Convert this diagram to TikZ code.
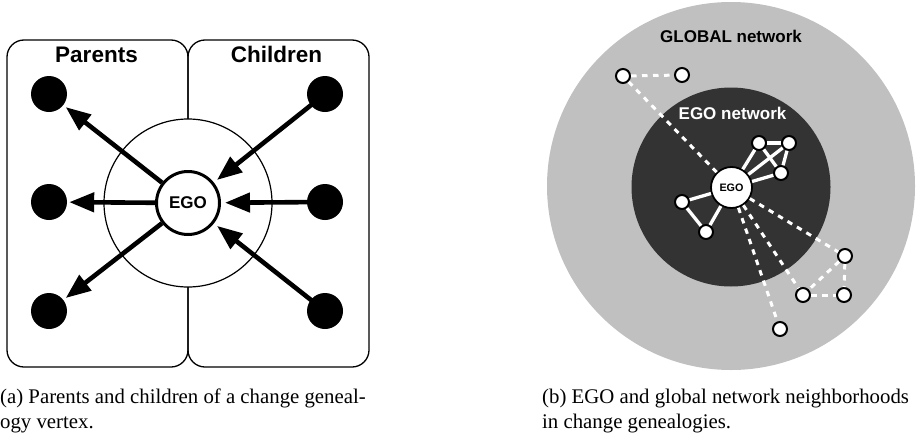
\documentclass[tikz,border=0pt]{standalone}
\usepackage{fontspec}
\setmainfont{Liberation Serif}
\newfontfamily\hv{Liberation Sans}
\usetikzlibrary{arrows.meta}
\definecolor{lightgrey}{HTML}{C0C0C0}
\definecolor{darkgrey}{HTML}{333333}
\begin{document}
\begin{tikzpicture}[x=1pt,y=-1pt,
  panel/.style={draw,line width=1.3pt,rounded corners=17pt},
  bigdot/.style={circle,fill=black,minimum size=36pt,inner sep=0pt},
  arr/.style={line width=4.6pt,-{Triangle[length=25pt,width=19pt]}},
  gnode/.style={circle,draw=black,fill=white,line width=2pt,minimum size=14pt,inner sep=0pt},
  sedge/.style={white,line width=3.3pt},
  dedge/.style={white,line width=3pt,dash pattern=on 5.5pt off 5.5pt},
  ttltext/.style={font=\hv\bfseries\fontsize{22.5}{26}\selectfont,anchor=base,inner sep=0pt},
  lbltext/.style={font=\hv\bfseries\fontsize{17}{20}\selectfont,anchor=base,inner sep=0pt},
  captext/.style={font=\fontsize{20.8}{25}\selectfont,anchor=base west,inner sep=0pt}
]
\useasboundingbox (0,0) rectangle (917,434);

% ---------- (a) ----------
\draw[panel] (7,40) rectangle (188,367);
\draw[panel] (188,40) rectangle (369,367);
\node[ttltext] (parents) at (96.5,62) {Parents};
\node[ttltext] (children) at (276.5,62) {Children};
\node[circle,draw,fill=white,line width=1.2pt,minimum size=168pt,inner sep=0pt] (ring) at (188,203) {};
\node[circle,draw,fill=white,line width=3pt,minimum size=63pt,inner sep=0pt,
      font=\hv\bfseries\fontsize{17}{20}\selectfont] (ego) at (188,203) {EGO};
\node[bigdot] (p1) at (49,94) {};
\node[bigdot] (p2) at (49,202) {};
\node[bigdot] (p3) at (49,311) {};
\node[bigdot] (c1) at (325,94) {};
\node[bigdot] (c2) at (325,202) {};
\node[bigdot] (c3) at (325,311) {};
\draw[arr,shorten >=3pt] (ego) -- (p1);
\draw[arr,shorten >=2pt] (ego) -- (p2);
\draw[arr,shorten >=3pt] (ego) -- (p3);
\draw[arr,shorten >=4pt] (c1.center) -- (ego);
\draw[arr,shorten >=4pt] (c2.center) -- (ego);
\draw[arr,shorten >=4pt] (c3.center) -- (ego);

% ---------- (b) ----------
\node[circle,fill=lightgrey,minimum size=368pt,inner sep=0pt] (glob) at (731,186) {};
\node[circle,fill=darkgrey,minimum size=199pt,inner sep=0pt] (egonet) at (731,187) {};
\node[lbltext] (globt) at (731,42) {GLOBAL network};
\node[lbltext,text=white] (egot) at (732.5,119) {EGO network};

\node[gnode] (A) at (623,76) {};
\node[gnode] (B) at (682,75) {};
\node[gnode] (C) at (759,143) {};
\node[gnode] (D) at (789,143) {};
\node[gnode] (E) at (781,173) {};
\node[gnode] (F) at (682,202) {};
\node[gnode] (G) at (706,232) {};
\node[gnode] (H) at (845,256) {};
\node[gnode] (I) at (803,295) {};
\node[gnode] (J) at (844,295) {};
\node[gnode] (K) at (780,329) {};
\node[circle,draw=black,fill=white,line width=1.8pt,minimum size=41pt,inner sep=0pt,
      font=\hv\bfseries\fontsize{10.8}{12}\selectfont] (ego2) at (731.5,187.5) {EGO};

\draw[sedge] (ego2) -- (C);
\draw[sedge] (ego2) -- (D);
\draw[sedge] (ego2) -- (E);
\draw[sedge] (C) -- (D);
\draw[sedge] (C) -- (E);
\draw[sedge] (D) -- (E);
\draw[sedge] (ego2) -- (F);
\draw[sedge] (F) -- (G);
\draw[sedge] (ego2) -- (G);

\draw[dedge] (A) -- (B);
\draw[dedge] (A) -- (ego2);
\draw[dedge] (ego2) -- (H);
\draw[dedge] (ego2) -- (I);
\draw[dedge] (ego2) -- (K);
\draw[dedge] (H) -- (I);
\draw[dedge] (H) -- (J);
\draw[dedge] (I) -- (J);

% ---------- captions ----------
\node[captext] (capa1) at (0,403) {(a)\ Parents and children of a change geneal-};
\node[captext] (capa2) at (0,428) {ogy vertex.};
\node[captext] (capb1) at (542,403) {(b)\ EGO and global network neighborhoods};
\node[captext] (capb2) at (542,428) {in change genealogies.};
\end{tikzpicture}
\end{document}
